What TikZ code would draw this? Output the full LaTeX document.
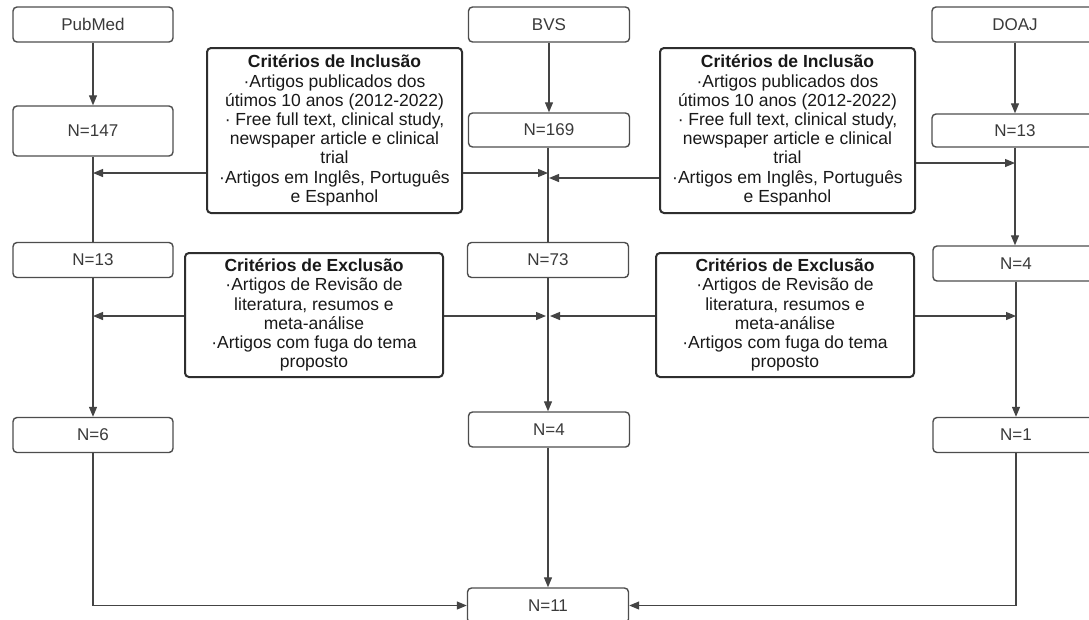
\documentclass[tikz,border=0pt]{standalone}
\usepackage{fontspec}
\setmainfont{Liberation Sans}
\usetikzlibrary{arrows.meta}
\definecolor{lc}{HTML}{444444}
\definecolor{boxgray}{HTML}{4D4D4D}
\definecolor{critgray}{HTML}{2E2E2E}
\definecolor{txtgray}{HTML}{3A3A3A}
\begin{document}
\begin{tikzpicture}[x=1pt,y=-1pt,
  sbox/.style={draw=boxgray, line width=1.4pt, rounded corners=4pt, minimum width=160pt, minimum height=35pt, inner sep=0pt, font=\fontsize{17}{19}\selectfont, text=txtgray},
  cbox/.style={draw=critgray, line width=2pt, rounded corners=4pt, inner sep=0pt, align=center, font=\fontsize{17.5}{19.2}\selectfont, text=black!90},
  arr/.style={draw=lc, line width=1.2pt, -{Triangle[length=10pt,width=8pt]}},
  ln/.style={draw=lc, line width=1.2pt}]
\useasboundingbox (0,0) rectangle (1089,619);
\clip (0,0) rectangle (1089,619);
\fill[white] (0,0) rectangle (1089,619);

% PubMed column
\node[sbox] (pub) at (93,24.5) {PubMed};
\node[sbox, minimum height=50pt] (n147) at (93,131) {N=147};
\node[sbox] (n13a) at (93,260) {N=13};
\node[sbox] (n6) at (93,435) {N=6};

% BVS column
\node[sbox, minimum width=161pt] (bvs) at (549,24.5) {BVS};
\node[sbox, minimum width=161pt, minimum height=34pt] (n169) at (549,130) {N=169};
\node[sbox, minimum width=161pt] (n73) at (548,260) {N=73};
\node[sbox, minimum width=161pt] (n4b) at (549,429.5) {N=4};
\node[sbox, minimum width=161pt] (n11) at (548,605.5) {N=11};

% DOAJ column
\node[sbox, minimum width=166pt] (doaj) at (1015,24.5) {DOAJ};
\node[sbox, minimum width=166pt, minimum height=33pt] (n13c) at (1015,130.5) {N=13};
\node[sbox, minimum width=166pt] (n4c) at (1016,263.5) {N=4};
\node[sbox, minimum width=166pt] (n1) at (1016,435) {N=1};

% criteria boxes
\node[cbox, minimum width=255pt, minimum height=165pt] (incL) at (334.5,130.5)
  {\textbf{Critérios de Inclusão}\\·Artigos publicados dos\\útimos 10 anos (2012-2022)\\· Free full text, clinical study,\\newspaper article e clinical\\trial\\·Artigos em Inglês, Português\\e Espanhol};
\node[cbox, minimum width=255pt, minimum height=165pt] (incR) at (787.5,130.5)
  {\textbf{Critérios de Inclusão}\\·Artigos publicados dos\\útimos 10 anos (2012-2022)\\· Free full text, clinical study,\\newspaper article e clinical\\trial\\·Artigos em Inglês, Português\\e Espanhol};
\node[cbox, minimum width=258pt, minimum height=124pt] (excL) at (314,315)
  {\textbf{Critérios de Exclusão}\\·Artigos de Revisão de\\literatura, resumos e\\meta-análise\\·Artigos com fuga do tema\\proposto};
\node[cbox, minimum width=258pt, minimum height=124pt] (excR) at (785,315)
  {\textbf{Critérios de Exclusão}\\·Artigos de Revisão de\\literatura, resumos e\\meta-análise\\·Artigos com fuga do tema\\proposto};

% helper heights
\coordinate (hA) at (0,173);
\coordinate (hB) at (0,178);
\coordinate (hC) at (0,163);
\coordinate (hE) at (0,316);

% vertical flow
\draw[arr] (pub) -- (n147);
\draw[ln] (n147) -- (n13a);
\draw[arr] (n13a) -- (n6);
\draw[arr] (n6) |- (n11);

\draw[arr] (bvs) -- (n169);
\draw[ln] (n169.south -| n73) -- (n73);
\draw[arr] (n73) -- (n73 |- n4b.north);
\draw[arr] (n4b.south -| n11) -- (n11);

\draw[arr] (doaj) -- (n13c);
\draw[arr] (n13c) -- (n13c |- n4c.north);
\draw[arr] (n4c) -- (n4c |- n1.north);
\draw[arr] (n1) |- (n11);

% horizontal criteria arrows
\draw[arr] (incL.west |- hA) -- (n147 |- hA);
\draw[arr] (incL.east |- hA) -- (n73 |- hA);
\draw[arr] (incR.west |- hB) -- ([xshift=1pt]n73 |- hB);
\draw[arr] (incR.east |- hC) -- (n13c |- hC);

\draw[arr] (excL.west |- hE) -- (n13a |- hE);
\draw[arr] (excL.east |- hE) -- ([xshift=-2pt]n73 |- hE);
\draw[arr] (excR.west |- hE) -- ([xshift=2pt]n73 |- hE);
\draw[arr] (excR.east |- hE) -- (n4c |- hE);
\end{tikzpicture}
\end{document}
